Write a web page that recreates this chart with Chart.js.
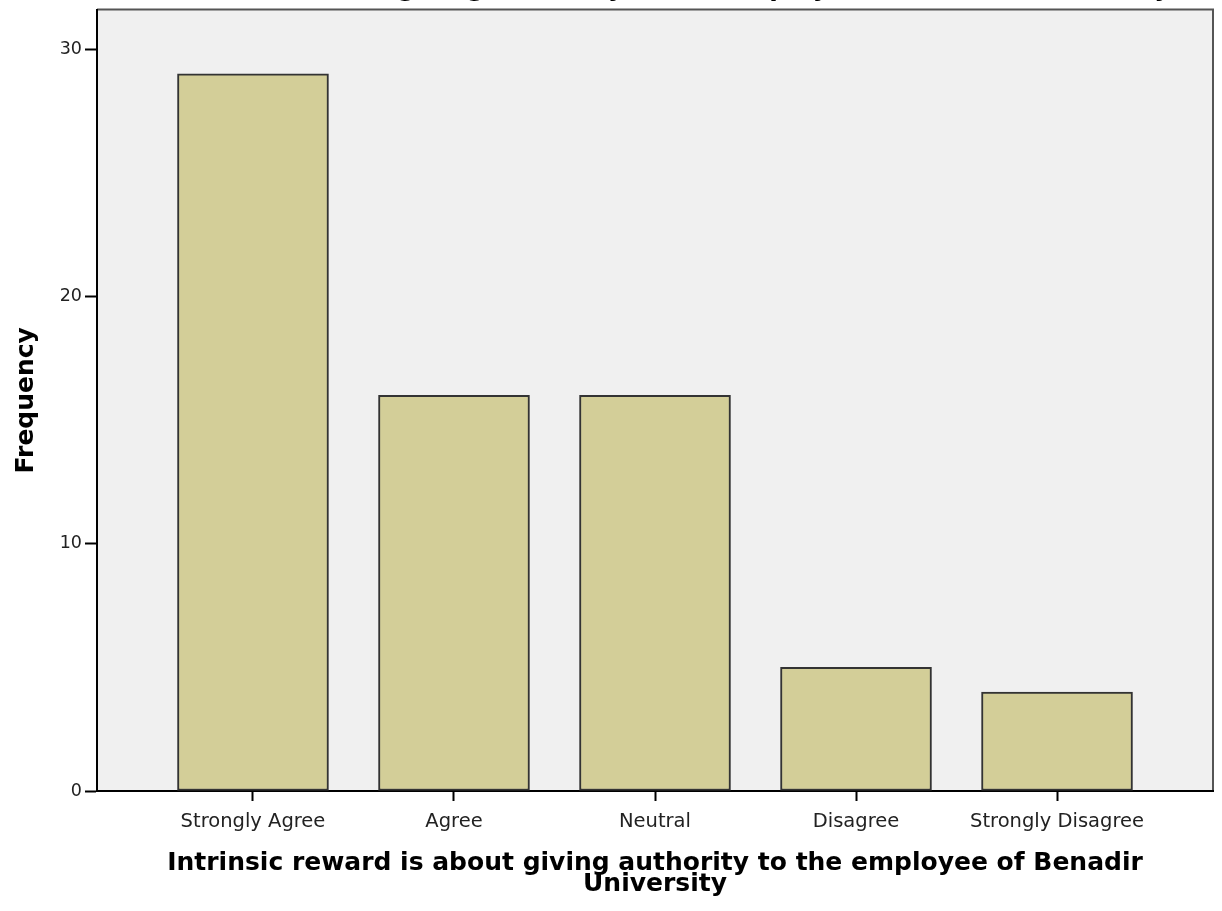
<!DOCTYPE html>
<html>
<head>
<meta charset="utf-8">
<script src="https://cdn.jsdelivr.net/npm/chart.js@4.4.1/dist/chart.umd.min.js"></script>
<style>
  html, body { margin: 0; padding: 0; background: #fff; overflow: hidden; }
  #wrap { position: absolute; left: 0; top: -24px; width: 1222px; height: 935px; }
</style>
</head>
<body>
<div id="wrap"><canvas id="freqChart" width="1222" height="935"></canvas></div>
<script>
// Frequencies per response category
const categories = ['Strongly Agree', 'Agree', 'Neutral', 'Disagree', 'Strongly Disagree'];
const frequencies = [29, 16, 16, 5, 4];
const yTicks = [0, 10, 20, 30];
const chartTitle = 'Intrinsic reward is about giving authority to the employee of Benadir University';
const xTitle = ['Intrinsic reward is about giving authority to the employee of Benadir', 'University'];
const yTitle = 'Frequency';

// grey plot panel with a frame on top and right
const panel = {
  id: 'panel',
  beforeDraw(chart) {
    const { ctx, chartArea: a } = chart;
    ctx.save();
    ctx.fillStyle = '#f0f0f0';
    ctx.fillRect(a.left, a.top, a.right - a.left, a.bottom - a.top);
    ctx.strokeStyle = '#555';
    ctx.lineWidth = 2;
    ctx.beginPath();
    ctx.moveTo(a.left, a.top);
    ctx.lineTo(a.right, a.top);
    ctx.lineTo(a.right, a.bottom);
    ctx.stroke();
    ctx.restore();
  }
};

new Chart(document.getElementById('freqChart'), {
  type: 'bar',
  data: {
    datasets: [{
      data: frequencies.map((v, i) => ({ x: i, y: v })),
      backgroundColor: '#d3ce98',
      borderColor: '#333',
      borderWidth: 2,
      borderSkipped: false,
      barThickness: 151
    }]
  },
  plugins: [panel],
  options: {
    responsive: false,
    animation: false,
    layout: { padding: { left: 0, right: 9, top: 0, bottom: 0 } },
    plugins: {
      legend: { display: false },
      tooltip: { enabled: false },
      title: {
        display: true,
        text: chartTitle,
        color: '#000',
        font: { family: 'DejaVu Sans', size: 25, weight: 'bold', lineHeight: 1.1 },
        padding: { top: 0, bottom: 6 }
      }
    },
    scales: {
      x: {
        type: 'linear',
        offset: false,
        min: -0.776,
        max: 4.776,
        afterBuildTicks(s) { s.ticks = categories.map((c, i) => ({ value: i })); },
        afterFit(s) { s.height = 120; },
        ticks: {
          callback: v => categories[v],
          color: '#222',
          font: { family: 'DejaVu Sans', size: 19.5 },
          padding: 9,
          maxRotation: 0,
          autoSkip: false
        },
        grid: { offset: false, drawOnChartArea: false, color: '#000', tickLength: 10, tickWidth: 2 },
        border: { color: '#000', width: 2 },
        title: {
          display: true,
          text: xTitle,
          color: '#000',
          font: { family: 'DejaVu Sans', size: 25, weight: 'bold', lineHeight: 0.85 },
          padding: { top: 0, bottom: 16 }
        }
      },
      y: {
        min: 0,
        max: 31.6,
        afterBuildTicks(s) { s.ticks = yTicks.map(v => ({ value: v })); },
        afterFit(s) { s.width = 97; },
        ticks: {
          color: '#222',
          font: { family: 'DejaVu Sans', size: 17.5 },
          padding: 3
        },
        grid: { drawOnChartArea: false, color: '#000', tickLength: 12, tickWidth: 2 },
        border: { color: '#000', width: 2 },
        title: {
          display: true,
          text: yTitle,
          color: '#000',
          font: { family: 'DejaVu Sans', size: 25, weight: 'bold' },
          padding: { top: 11, bottom: 0 }
        }
      }
    }
  }
});
</script>
</body>
</html>
